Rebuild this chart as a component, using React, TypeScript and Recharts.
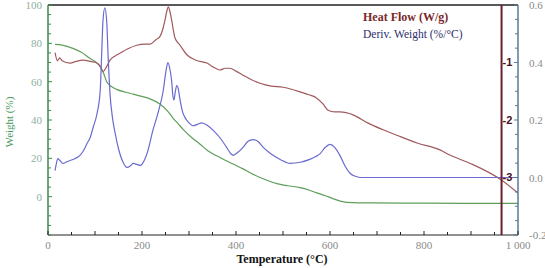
import React from 'react';
import { ComposedChart, Line, XAxis, YAxis, ReferenceLine, ReferenceDot, Legend, Customized } from 'recharts';

// Weight (%) — green curve
const weightTemps = [15, 30, 53, 70, 89, 100, 111, 118, 125, 135, 146, 165, 181, 200, 217, 238, 255, 266, 277, 288, 305, 323, 340, 359, 377, 394, 415, 430, 451, 470, 487, 510, 536, 555, 572, 590, 606, 620, 636, 660, 679, 800, 1000];
const weightValues = [79.5, 79.1, 77.4, 75.5, 72.2, 70.5, 68, 64.5, 60, 57.5, 56, 54.5, 53.5, 52.3, 51, 48.3, 44.5, 41, 38, 35, 31, 27.5, 24, 21.3, 19, 17, 14.5, 12.5, 10, 8.2, 6.8, 5.7, 4.7, 3.5, 2, 0.5, -1, -2.2, -3, -3.2, -3.2, -3.4, -3.5];

// Heat Flow (W/g) — red curve
const heatTemps = [15, 20, 25, 30, 47, 60, 74, 90, 104, 112, 117, 124, 132, 142, 153, 170, 189, 205, 217, 230, 238, 245, 249, 253, 256, 259, 263, 267, 270, 281, 296, 315, 338, 352, 366, 377, 387, 400, 415, 433, 451, 475, 500, 520, 536, 555, 572, 585, 596, 610, 621, 649, 680, 713, 750, 785, 834, 855, 900, 964, 1000];
const heatValues = [-0.83, -0.97, -0.92, -0.97, -1.01, -0.98, -0.96, -0.98, -1.01, -1.08, -1.16, -1.08, -0.96, -0.89, -0.84, -0.76, -0.7, -0.68, -0.68, -0.6, -0.55, -0.4, -0.26, -0.1, -0.03, -0.1, -0.26, -0.45, -0.57, -0.7, -0.87, -0.96, -1.01, -1.08, -1.13, -1.1, -1.1, -1.15, -1.22, -1.3, -1.36, -1.41, -1.43, -1.47, -1.51, -1.56, -1.62, -1.72, -1.83, -1.86, -1.86, -1.91, -2.05, -2.17, -2.29, -2.4, -2.52, -2.61, -2.76, -3.04, -3.27];

// Deriv. Weight (%/°C) — blue curve
const derivTemps = [15, 18, 21, 25, 32, 40, 47, 58, 68, 76, 83, 90, 96, 104, 111, 114, 117, 121, 125, 128, 132, 137, 143, 150, 160, 168, 175, 181, 190, 196, 205, 212, 223, 235, 245, 251, 255, 259, 263, 266, 268, 271, 274, 277, 281, 286, 291, 300, 309, 318, 327, 340, 351, 365, 380, 388, 394, 402, 415, 425, 436, 447, 458, 470, 479, 495, 515, 537, 557, 570, 579, 590, 600, 610, 621, 632, 643, 655, 664, 700, 1000];
const derivValues = [0.024, 0.05, 0.066, 0.06, 0.049, 0.055, 0.059, 0.066, 0.077, 0.095, 0.118, 0.14, 0.174, 0.22, 0.3, 0.42, 0.546, 0.59, 0.54, 0.42, 0.29, 0.21, 0.153, 0.1, 0.052, 0.035, 0.04, 0.049, 0.045, 0.042, 0.06, 0.09, 0.163, 0.23, 0.3, 0.37, 0.4, 0.38, 0.337, 0.28, 0.27, 0.3, 0.32, 0.31, 0.27, 0.23, 0.21, 0.19, 0.18, 0.185, 0.19, 0.18, 0.165, 0.14, 0.105, 0.085, 0.077, 0.085, 0.105, 0.125, 0.132, 0.125, 0.105, 0.088, 0.077, 0.062, 0.049, 0.053, 0.063, 0.073, 0.083, 0.105, 0.115, 0.105, 0.077, 0.04, 0.014, 0.004, 0, 0, 0];

// Axis ticks
const xTicks = [0, 50, 100, 150, 200, 250, 300, 350, 400, 450, 500, 550, 600, 650, 700, 750, 800, 850, 900, 950, 1000];
const xLabelTicks = [0, 200, 400, 600, 800, 1000];
const leftTicks = [-20, -15, -10, -5, 0, 5, 10, 15, 20, 25, 30, 35, 40, 45, 50, 55, 60, 65, 70, 75, 80, 85, 90, 95, 100];
const leftLabelTicks = [0, 20, 40, 60, 80, 100];
const rightTicks = [-0.2, -0.15, -0.1, -0.05, 0, 0.05, 0.1, 0.15, 0.2, 0.25, 0.3, 0.35, 0.4, 0.45, 0.5, 0.55, 0.6];
const rightLabelTicks = [-0.2, 0, 0.2, 0.4, 0.6];
const heatAxisTemp = 965;
const heatLabelTicks = [-1, -2, -3];

const weightData = weightTemps.map((t, i) => ({ t, v: weightValues[i] }));
const heatData = heatTemps.map((t, i) => ({ t, v: heatValues[i] }));
const derivData = derivTemps.map((t, i) => ({ t, v: derivValues[i] }));

const SERIF = '"Liberation Serif", "DejaVu Serif", serif';

const near = (a: number, list: number[]) => list.some((b) => Math.abs(a - b) < 1e-6);

const XTick = (props: any) => {
  const { x, y, payload } = props;
  const v = payload.value;
  const major = v % 100 === 0;
  return (
    <g>
      <line x1={x} y1={y} x2={x} y2={y - (major ? 4 : 3)} stroke="#222" strokeWidth={1} />
      {near(v, xLabelTicks) && (
        <text x={x} y={y + 14} textAnchor="middle" fill="#8a8a8a" fontSize={11} fontFamily={SERIF}>
          {v === 1000 ? '1 000' : String(v)}
        </text>
      )}
    </g>
  );
};

const LeftTick = (props: any) => {
  const { x, y, payload } = props;
  const v = payload.value;
  const major = near(v, leftLabelTicks);
  return (
    <g>
      <line x1={x} y1={y} x2={x + (major ? 4 : 3)} y2={y} stroke="#3c8a4c" strokeWidth={1} />
      {major && (
        <text x={x - 6} y={y + 4} textAnchor="end" fill="#8fb09c" fontSize={11} fontFamily={SERIF}>
          {String(v)}
        </text>
      )}
    </g>
  );
};

const RightTick = (props: any) => {
  const { x, y, payload } = props;
  const v = payload.value;
  const major = near(v, rightLabelTicks);
  return (
    <g>
      <line x1={x} y1={y} x2={x - (major ? 4 : 3)} y2={y} stroke="#5a7898" strokeWidth={1} />
      {major && (
        <text x={x + 11} y={y + 4} textAnchor="start" fill="#8a8a8a" fontSize={11} fontFamily={SERIF}>
          {v.toFixed(1)}
        </text>
      )}
    </g>
  );
};

const LegendContent = () => (
  <div style={{ fontFamily: SERIF, lineHeight: '17px', whiteSpace: 'nowrap' }}>
    <div style={{ color: '#7a2828', fontWeight: 'bold', fontSize: 12 }}>Heat Flow (W/g)</div>
    <div style={{ color: '#2e2e6e', fontSize: 11.5 }}>Deriv. Weight (%/°C)</div>
  </div>
);

const AxisTitles = () => (
  <g>
    <text
      x={13}
      y={122}
      transform="rotate(-90 13 122)"
      textAnchor="middle"
      fill="#4a9a5a"
      fontSize={11}
      fontFamily={SERIF}
    >
      Weight (%)
    </text>
    <text x={282} y={263} textAnchor="middle" fill="#111" fontSize={12} fontWeight="bold" fontFamily={SERIF}>
      Temperature (°C)
    </text>
  </g>
);

export default function App() {
  return (
    <div style={{ position: 'absolute', left: 0, top: 0, width: 545, height: 268, background: '#fff' }}>
      <ComposedChart width={545} height={268} margin={{ top: 5, right: 0, bottom: 0, left: 0 }}>
        <XAxis
          dataKey="t"
          type="number"
          domain={[0, 1000]}
          ticks={xTicks}
          interval={0}
          height={33}
          tickSize={0}
          tickMargin={0}
          tickLine={false}
          tick={<XTick />}
          axisLine={{ stroke: '#222', strokeWidth: 1 }}
          allowDataOverflow
        />
        <YAxis
          yAxisId="left"
          orientation="left"
          type="number"
          domain={[-20, 100]}
          ticks={leftTicks}
          interval={0}
          width={48}
          tickSize={0}
          tickMargin={0}
          tickLine={false}
          tick={<LeftTick />}
          axisLine={{ stroke: '#3c8a4c', strokeWidth: 1.5 }}
          allowDataOverflow
        />
        <YAxis
          yAxisId="right"
          orientation="right"
          type="number"
          domain={[-0.2, 0.6]}
          ticks={rightTicks}
          interval={0}
          width={27}
          tickSize={0}
          tickMargin={0}
          tickLine={false}
          tick={<RightTick />}
          axisLine={{ stroke: '#5a7898', strokeWidth: 1.5 }}
          allowDataOverflow
        />
        <YAxis yAxisId="heat" orientation="right" width={0} hide type="number" domain={[-4, 0]} allowDataOverflow />

        <ReferenceLine yAxisId="left" y={100} stroke="#222" strokeWidth={1.5} />
        <Line
          data={weightData}
          dataKey="v"
          yAxisId="left"
          type="monotone"
          stroke="#5f9e5a"
          strokeWidth={1.2}
          dot={false}
          isAnimationActive={false}
        />
        <Line
          data={heatData}
          dataKey="v"
          yAxisId="heat"
          type="monotone"
          stroke="#a05a5e"
          strokeWidth={1.2}
          dot={false}
          isAnimationActive={false}
        />
        <Line
          data={derivData}
          dataKey="v"
          yAxisId="right"
          type="monotone"
          stroke="#6a6ad0"
          strokeWidth={1.2}
          dot={false}
          isAnimationActive={false}
        />
        <ReferenceLine yAxisId="heat" x={heatAxisTemp} stroke="#6a1f2c" strokeWidth={2} />
        {heatLabelTicks.map((h) => (
          <ReferenceDot
            key={h}
            yAxisId="heat"
            x={heatAxisTemp}
            y={h}
            r={0}
            fill="none"
            stroke="none"
            label={{
              value: String(h),
              position: 'right',
              offset: 1,
              fill: '#4a1018',
              fontSize: 11,
              fontWeight: 'bold',
              fontFamily: '"Liberation Sans", Arial, sans-serif',
            }}
          />
        ))}
        <Legend
          layout="vertical"
          align="center"
          verticalAlign="middle"
          content={<LegendContent />}
          wrapperStyle={{ left: 363, top: 9, width: 'auto', height: 'auto' }}
        />
        <Customized component={<AxisTitles />} />
      </ComposedChart>
    </div>
  );
}
